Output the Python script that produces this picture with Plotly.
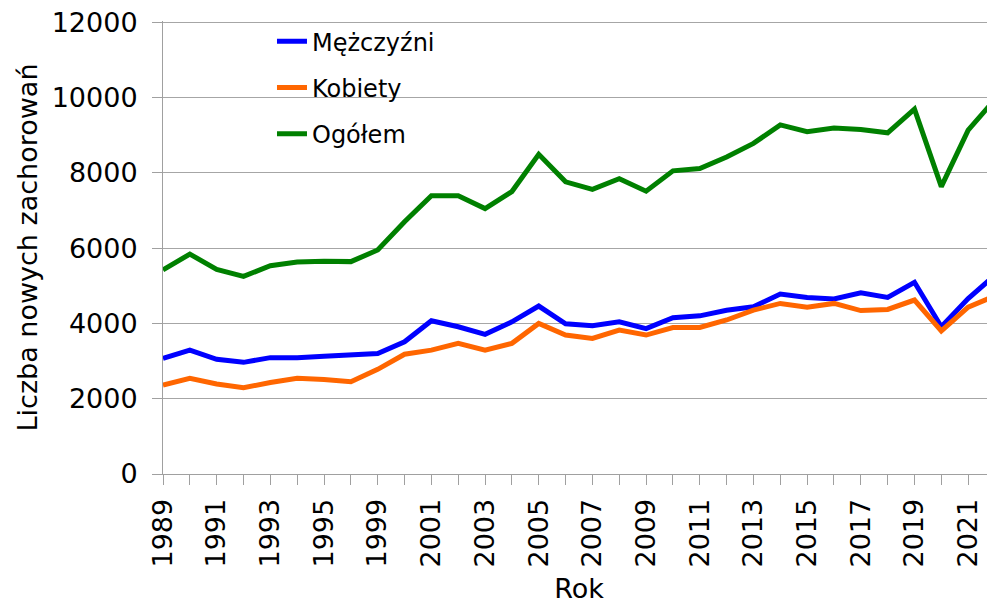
import plotly.graph_objects as go

# ---- data ----
years = ["1989", "1990", "1991", "1992", "1993", "1994", "1995", "1996",
         "1999", "2000", "2001", "2002", "2003", "2004", "2005", "2006",
         "2007", "2008", "2009", "2010", "2011", "2012", "2013", "2014",
         "2015", "2016", "2017", "2018", "2019", "2020", "2021", "2022"]

mezczyzni = [3070, 3290, 3045, 2965, 3090, 3090, 3130, 3170, 3200, 3510,
             4070, 3910, 3710, 4040, 4460, 3990, 3940, 4040, 3860, 4150,
             4200, 4350, 4440, 4780, 4690, 4650, 4810, 4690, 5090, 3910,
             4660, 5280]

kobiety = [2360, 2540, 2390, 2290, 2430, 2540, 2510, 2450, 2780, 3180,
           3290, 3470, 3290, 3470, 4000, 3690, 3600, 3820, 3690, 3890,
           3890, 4090, 4350, 4530, 4430, 4530, 4340, 4370, 4620, 3800,
           4430, 4730]

ogolem = [5420, 5840, 5430, 5250, 5530, 5630, 5650, 5640, 5950, 6700,
          7390, 7390, 7050, 7500, 8490, 7760, 7560, 7840, 7510, 8050,
          8110, 8420, 8780, 9270, 9090, 9190, 9150, 9060, 9690, 7630,
          9130, 9950]

tick_labels = ["1989", "1991", "1993", "1995", "1999", "2001", "2003", "2005",
               "2007", "2009", "2011", "2013", "2015", "2017", "2019", "2021"]

series_names = ["Mężczyźni", "Kobiety", "Ogółem"]
series_colors = ["#0000FF", "#FF6600", "#008000"]

FONT = "Verdana, DejaVu Sans, sans-serif"
TXT = "#000000"
AXC = "#a0a0a0"

fig = go.Figure()
for i, (name, vals, col) in enumerate(zip(series_names, [mezczyzni, kobiety, ogolem], series_colors)):
    fig.add_trace(go.Scatter(
        x=years, y=vals, name=name, mode="lines",
        line=dict(color=col, width=5),
        legendgroup=f"g{i}",
    ))

ticktext = [y if y in tick_labels else "" for y in years]

fig.update_layout(
    width=987, height=598,
    margin=dict(l=155, r=0, t=13, b=132, autoexpand=False),
    paper_bgcolor="white", plot_bgcolor="white",
    font=dict(family=FONT, color=TXT, size=24),
    showlegend=True,
    legend=dict(
        x=0.131, y=1.004, xanchor="left", yanchor="top",
        bgcolor="rgba(0,0,0,0)",
        font=dict(family=FONT, size=24, color=TXT),
        traceorder="grouped", tracegroupgap=12,
    ),
    xaxis=dict(
        type="category",
        categoryorder="array", categoryarray=years,
        range=[0, len(years) - 1],
        tickmode="array", tickvals=years, ticktext=ticktext,
        tickangle=-90,
        ticks="outside", ticklen=10, tickcolor=AXC, tickwidth=1,
        ticklabelstandoff=3,
        showline=True, linecolor=AXC, linewidth=1,
        showgrid=False, automargin=False,
        tickfont=dict(family=FONT, size=27, color=TXT),
        title=dict(text="Rok", font=dict(family=FONT, size=27, color=TXT), standoff=12),
    ),
    yaxis=dict(
        range=[0, 12030], dtick=2000, tick0=0, tickformat="d",
        ticks="outside", ticklen=10, tickcolor=AXC, tickwidth=1,
        ticklabelstandoff=9, ticklabeloverflow="allow",
        showline=True, linecolor=AXC, linewidth=1,
        showgrid=True, gridcolor="#a6a6a6", gridwidth=1,
        zeroline=False, automargin=False,
        tickfont=dict(family=FONT, size=27, color=TXT),
        title=dict(text="Liczba nowych zachorowań", font=dict(family=FONT, size=27, color=TXT), standoff=6),
    ),
    shapes=[dict(
        type="rect", xref="paper", yref="paper",
        x0=0.0625, x1=0.375, y0=0.72, y1=0.975,
        fillcolor="white", line=dict(width=0), layer="between",
    )],
)

fig.write_html("out.html")
